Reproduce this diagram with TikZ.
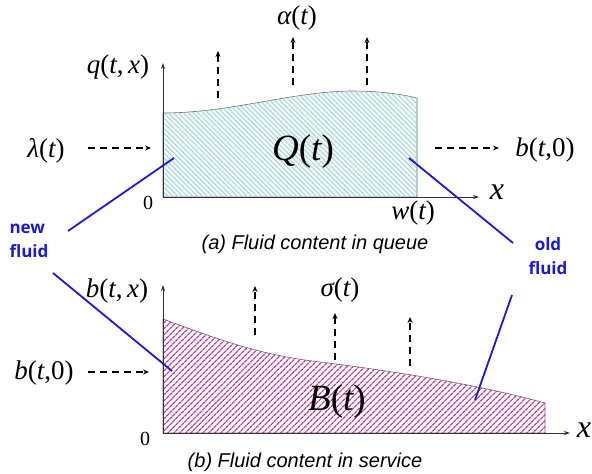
\documentclass[tikz,border=0pt]{standalone}
\usepackage{fontspec}
\setmainfont{Liberation Serif}
\newfontfamily\capfont{Liberation Sans}
\newfontfamily\lblfont{Open Sans}
\usetikzlibrary{patterns.meta,arrows.meta}
\definecolor{qfill}{HTML}{F2F9F9}
\definecolor{qline}{HTML}{A8D6D6}
\definecolor{bline}{HTML}{C2309A}
\definecolor{ptr}{HTML}{1A1AD0}
\begin{document}
\begin{tikzpicture}[x=1pt,y=-1pt,
 axis/.style={line width=0.8pt, draw=black!80, -{Stealth[length=6pt,width=4pt]}},
 dasharrow/.style={line width=1.5pt, dash pattern=on 7pt off 5pt, -{Stealth[length=6pt,width=5pt]}},
 mlbl/.style={font=\fontsize{27}{30}\selectfont, inner sep=0pt},
 zero/.style={font=\fontsize{20}{22}\selectfont, inner sep=0pt},
 xlbl/.style={font=\itshape\fontsize{32}{34}\selectfont, inner sep=0pt},
 big/.style={font=\fontsize{37}{40}\selectfont, inner sep=0pt},
 captxt/.style={font=\capfont\itshape\fontsize{20}{22}\selectfont, inner sep=0pt},
 blbl/.style={font=\lblfont\bfseries\fontsize{17}{24}\selectfont, text=ptr, align=left, inner sep=0pt},
 pointer/.style={draw=ptr, line width=1.8pt}]
\useasboundingbox (0,0) rectangle (592,474);

% ---------- (a) queue ----------
\path[draw=black!60, line width=0.6pt, fill=qfill,
      postaction={pattern={Lines[angle=-45,distance=3.5pt,line width=0.9pt]}, pattern color=qline}]
  (163,197) -- (163,113) .. controls (230,113) and (290,92) .. (350,91)
  .. controls (380,91) and (400,94) .. (417,98) -- (417,197) -- cycle;

\coordinate (qo) at (163,197);
\coordinate (qy) at (163,63);
\coordinate (qx) at (479,197);
\draw[axis] (qo) -- (qy);
\draw[axis] (qo) -- (qx);

\node[mlbl] (qlab) at (118,67) {\itshape q\upshape(\itshape t\upshape,\,\itshape x\upshape)};
\node[zero] (q0) at (148,203) {0};
\node[xlbl] (qxl) at (497,192) {x};
\node[mlbl] (wl) at (413,213) {\itshape w\upshape(\itshape t\upshape)};
\node[big] (Q) at (303,152) {\itshape Q\upshape(\itshape t\upshape)};
\node[mlbl] (lam) at (46,151) {\itshape λ\upshape(\itshape t\upshape)};
\node[mlbl] (bout) at (545,150) {\itshape b\upshape(\itshape t\upshape,0)};
\node[mlbl] (alpha) at (297,18) {\itshape α\upshape(\itshape t\upshape)};

\coordinate (la1) at (88,148);  \coordinate (la2) at (151,148);
\draw[dasharrow] (la1) -- (la2);
\coordinate (bo1) at (435,148); \coordinate (bo2) at (499,148);
\draw[dasharrow] (bo1) -- (bo2);
\coordinate (a1s) at (218,98); \coordinate (a1e) at (218,51);
\coordinate (a2s) at (293,85); \coordinate (a2e) at (293,37);
\coordinate (a3s) at (367,85); \coordinate (a3e) at (367,37);
\draw[dasharrow] (a1s) -- (a1e);
\draw[dasharrow] (a2s) -- (a2e);
\draw[dasharrow] (a3s) -- (a3e);

\node[captxt] (capa) at (315,244) {(a) Fluid content in queue};

% ---------- (b) service ----------
\path[draw=black!60, line width=0.6pt, fill=white,
      postaction={pattern={Lines[angle=45,distance=4pt,line width=1.3pt]}, pattern color=bline}]
  (163,433) -- (163,319) .. controls (220,340) and (260,355) .. (320,362)
  .. controls (400,372) and (480,385) .. (545,403) -- (545,433) -- cycle;

\coordinate (bo) at (163,433);
\coordinate (by) at (163,285);
\coordinate (bx) at (570,433);
\draw[axis] (bo) -- (by);
\draw[axis] (bo) -- (bx);

\node[mlbl] (blab) at (117,291) {\itshape b\upshape(\itshape t\upshape,\,\itshape x\upshape)};
\node[zero] (b0) at (145,439) {0};
\node[xlbl] (bxl) at (584,430) {x};
\node[mlbl] (bin) at (44,373) {\itshape b\upshape(\itshape t\upshape,0)};
\node[big] (B) at (337,402) {\itshape B\upshape(\itshape t\upshape)};
\node[mlbl] (sig) at (340,290) {\itshape σ\upshape(\itshape t\upshape)};

\coordinate (bi1) at (88,372); \coordinate (bi2) at (149,372);
\draw[dasharrow] (bi1) -- (bi2);
\coordinate (s1s) at (255,335); \coordinate (s1e) at (255,286);
\coordinate (s2s) at (335,360); \coordinate (s2e) at (335,313);
\coordinate (s3s) at (410,366); \coordinate (s3e) at (410,317);
\draw[dasharrow] (s1s) -- (s1e);
\draw[dasharrow] (s2s) -- (s2e);
\draw[dasharrow] (s3s) -- (s3e);

\node[captxt] (capb) at (305,462) {(b) Fluid content in service};

% ---------- pointers ----------
\node[blbl] (newf) at (29,241) {new\\fluid};
\node[blbl, align=center] (oldf) at (548,256) {old\\fluid};
\coordinate (n1s) at (68,231); \coordinate (n1e) at (174,158);
\coordinate (n2s) at (53,273); \coordinate (n2e) at (172,371);
\coordinate (o1s) at (409,158); \coordinate (o1e) at (513,243);
\coordinate (o2s) at (512,295); \coordinate (o2e) at (475,400);
\draw[pointer] (n1s) -- (n1e);
\draw[pointer] (n2s) -- (n2e);
\draw[pointer] (o1s) -- (o1e);
\draw[pointer] (o2s) -- (o2e);
\end{tikzpicture}
\end{document}
